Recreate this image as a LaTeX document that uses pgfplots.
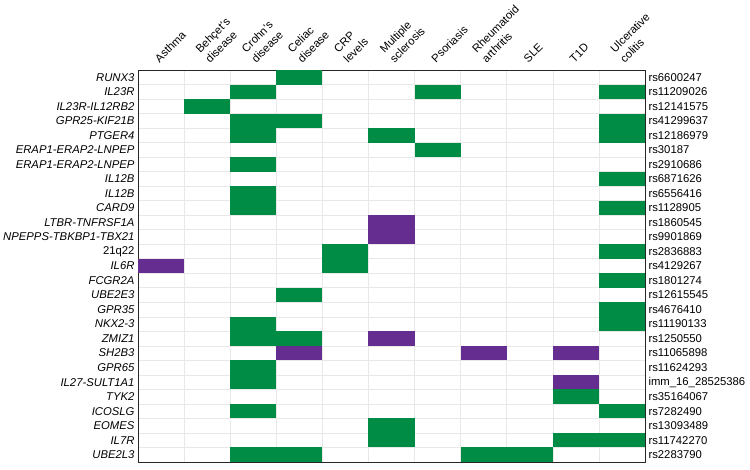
\documentclass[border=0pt]{standalone}
\usepackage{pgfplots}
\pgfplotsset{compat=1.18}
\usepackage{fontspec}
\setmainfont{Liberation Sans}
\definecolor{cgreen}{RGB}{0,140,69}
\definecolor{cpurple}{RGB}{102,45,145}
\definecolor{cgrid}{RGB}{232,232,232}
\pgfdeclareplotmark{cell}{\pgfpathrectangle{\pgfpoint{-23.045pt}{-7.26pt}}{\pgfpoint{46.09pt}{14.52pt}}\pgfusepathqfill}
\newcommand{\lf}{\fontsize{11.3}{14}\selectfont}
\newcommand{\tl}[1]{\begin{tabular}{@{}l@{}}#1\end{tabular}}
\begin{document}
\begin{tikzpicture}
\begin{axis}[name=ax, scale only axis, width=507pt, height=392pt,
  xmin=0.5, xmax=11.5, ymin=0.5, ymax=27.5,
  axis on top,
  xtick={2,3,4,5,6,8,11},
  xticklabels={\tl{Behçet's\\disease}, \tl{Crohn's\\disease}, \tl{Celiac\\disease}, \tl{CRP\\levels}, \tl{Multiple\\sclerosis}, \tl{Rheumatoid\\arthritis}, \tl{Ulcerative\\colitis}},
  extra x ticks={1,7,9,10},
  extra x tick labels={\tl{Asthma}, \tl{Psoriasis}, \tl{SLE}, \tl{T1D}},
  extra x tick style={xticklabel style={xshift=-3.18pt, yshift=3.18pt}},
  xticklabel pos=upper,
  ytick={1,...,27},
  yticklabels={UBE2L3, IL7R, EOMES, ICOSLG, TYK2, IL27-SULT1A1, GPR65, SH2B3, ZMIZ1, NKX2-3, GPR35, UBE2E3, FCGR2A, IL6R, \upshape 21q22, NPEPPS-TBKBP1-TBX21, LTBR-TNFRSF1A, CARD9, IL12B, IL12B, ERAP1-ERAP2-LNPEP, ERAP1-ERAP2-LNPEP, PTGER4, GPR25-KIF21B, IL23R-IL12RB2, IL23R, RUNX3},
  minor xtick={1.5,2.5,...,10.5},
  minor ytick={1.5,2.5,...,26.5},
  xminorgrids, yminorgrids,
  minor grid style={cgrid, line width=0.6pt},
  major tick length=0pt, minor tick length=0pt,
  axis line style={line width=0.8pt, black!85},
  tick label style={font=\lf},
  yticklabel style={font=\lf\itshape},
  xticklabel style={xshift=6pt, yshift=3.5pt, rotate=45, anchor=south west, inner sep=0pt},
]
\addplot[only marks, mark=cell, color=cgreen] coordinates {
 (4,27)
 (3,26) (7,26) (11,26)
 (2,25)
 (3,24) (4,24) (11,24)
 (3,23) (6,23) (11,23)
 (7,22)
 (3,21)
 (11,20)
 (3,19)
 (3,18) (11,18)
 (5,15) (11,15)
 (5,14)
 (11,13)
 (4,12)
 (11,11)
 (3,10) (11,10)
 (3,9) (4,9)
 (3,7)
 (3,6)
 (10,5)
 (3,4) (11,4)
 (6,3)
 (6,2) (10,2) (11,2)
 (3,1) (4,1) (8,1) (9,1)
};
\addplot[only marks, mark=cell, color=cpurple] coordinates {
 (6,17) (6,16) (1,14) (6,9) (4,8) (8,8) (10,8) (10,6)
};
\end{axis}
\begin{axis}[scale only axis, width=507pt, height=392pt,
  xmin=0.5, xmax=11.5, ymin=0.5, ymax=27.5,
  hide x axis, axis y line*=right,
  y axis line style={draw=none},
  major tick length=0pt,
  ytick={1,...,27},
  yticklabels={rs2283790, rs11742270, rs13093489, rs7282490, rs35164067, imm\_16\_28525386, rs11624293, rs11065898, rs1250550, rs11190133, rs4676410, rs12615545, rs1801274, rs4129267, rs2836883, rs9901869, rs1860545, rs1128905, rs6556416, rs6871626, rs2910686, rs30187, rs12186979, rs41299637, rs12141575, rs11209026, rs6600247},
  tick label style={font=\lf},
]
\addplot[draw=none] coordinates {(1,1)};
\end{axis}
\pgfresetboundingbox
\useasboundingbox ([shift={(-138pt,-8pt)}]ax.south west) rectangle ([shift={(105pt,70pt)}]ax.north east);
\end{tikzpicture}
\end{document}
